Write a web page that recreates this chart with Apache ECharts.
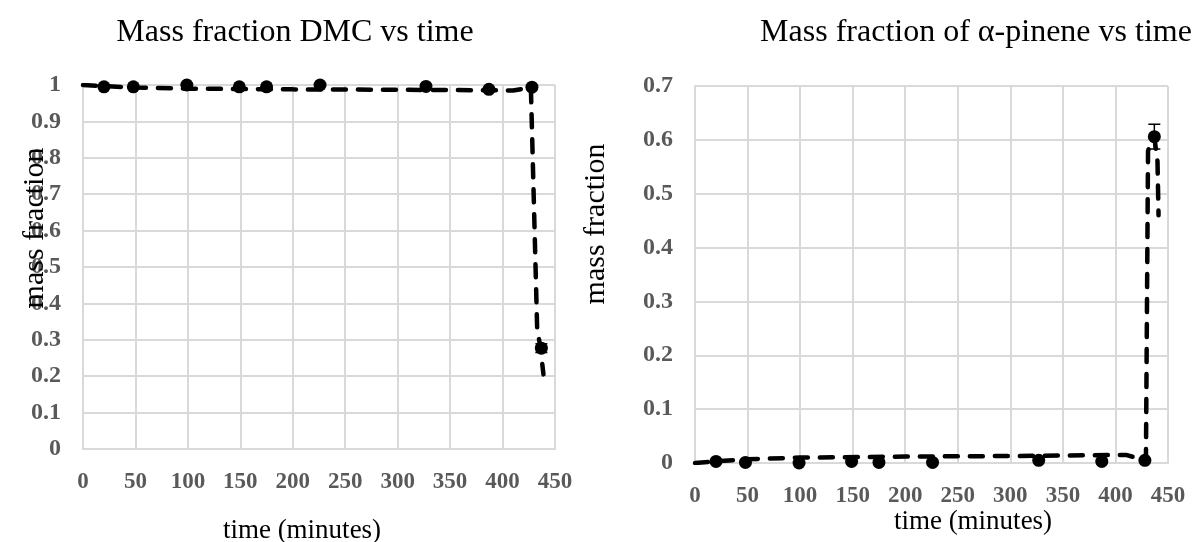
<!DOCTYPE html>
<html>
<head>
<meta charset="utf-8">
<script src="https://cdn.jsdelivr.net/npm/echarts@6/dist/echarts.min.js"></script>
<style>
  html, body { margin: 0; padding: 0; background: #fff; }
  #chart { width: 1196px; height: 542px; }
</style>
</head>
<body>
<div id="chart"></div>
<script>
// Sampling times (minutes) of the measured points
const sampleTimes = [20, 48, 99, 149, 175, 226, 327, 387, 428, 437];

// Measured mass fraction of DMC and its error
const dmcMeasured = [0.995, 0.995, 1.0, 0.995, 0.995, 1.0, 0.996, 0.988, 0.994, 0.277];
const dmcError    = [0, 0, 0, 0, 0, 0, 0, 0, 0, 0.012];

// Measured mass fraction of alpha-pinene and its error
const pineneMeasured = [0.003, 0.001, 0.0, 0.003, 0.001, 0.001, 0.005, 0.003, 0.005, 0.606];
const pineneError    = [0, 0, 0, 0, 0, 0, 0, 0, 0, 0.023];

// Dashed profile curves
const dmcCurveTimes    = [0, 20, 50, 100, 200, 300, 410, 427, 433, 436, 439];
const dmcCurve         = [1.0, 0.997, 0.993, 0.99, 0.988, 0.987, 0.985, 0.993, 0.33, 0.28, 0.205];
const pineneCurveTimes = [0, 20, 50, 100, 200, 300, 410, 429, 431, 437, 440, 441];
const pineneCurve      = [0, 0.003, 0.007, 0.01, 0.012, 0.013, 0.015, 0.005, 0.58, 0.605, 0.56, 0.46];

// Tick labels
const timeTicks   = ['0', '50', '100', '150', '200', '250', '300', '350', '400', '450'];
const dmcTicks    = ['0', '0.1', '0.2', '0.3', '0.4', '0.5', '0.6', '0.7', '0.8', '0.9', '1'];
const pineneTicks = ['0', '0.1', '0.2', '0.3', '0.4', '0.5', '0.6', '0.7'];

const titles = ['Mass fraction DMC vs time', 'Mass fraction of α-pinene vs time'];
const xTitle = 'time (minutes)';
const yTitle = 'mass fraction';

const SERIF = '"Liberation Serif", "Times New Roman", serif';
const GRID_COLOR = '#d9d9d9';
const LABEL_COLOR = '#595959';

function pairs(xs, ys) { return xs.map((x, i) => [x, ys[i]]); }

function xAxisDef(gridIndex) {
  return {
    type: 'value', gridIndex, min: 0, max: 450, interval: 50,
    axisLine: { show: true, lineStyle: { color: GRID_COLOR, width: 2 } },
    axisTick: { show: false },
    splitLine: { show: true, lineStyle: { color: GRID_COLOR, width: 2 } },
    axisLabel: {
      margin: 22, color: LABEL_COLOR, fontFamily: SERIF, fontWeight: 'bold', fontSize: 23,
      formatter: v => timeTicks[Math.round(v / 50)]
    }
  };
}

function yAxisDef(gridIndex, max, ticks) {
  return {
    type: 'value', gridIndex, min: 0, max, interval: 0.1,
    axisLine: { show: true, lineStyle: { color: GRID_COLOR, width: 2 } },
    axisTick: { show: false },
    splitLine: { show: true, lineStyle: { color: GRID_COLOR, width: 2 } },
    axisLabel: {
      margin: 22, color: LABEL_COLOR, fontFamily: SERIF, fontWeight: 'bold', fontSize: 24,
      formatter: v => ticks[Math.round(v / 0.1)]
    }
  };
}

function curveSeries(idx, data) {
  return {
    type: 'line', xAxisIndex: idx, yAxisIndex: idx, data,
    showSymbol: false, silent: true, z: 3,
    lineStyle: { color: '#000', width: 4.5, type: [13, 12], cap: 'round' }
  };
}

function pointSeries(idx, data) {
  return {
    type: 'scatter', xAxisIndex: idx, yAxisIndex: idx, data,
    symbol: 'circle', symbolSize: 13, z: 5,
    itemStyle: { color: '#000', opacity: 1 }
  };
}

function errorSeries(idx, xs, ys, errs) {
  const data = xs.map((x, i) => [x, ys[i] - errs[i], ys[i] + errs[i]]).filter((d, i) => errs[i] > 0);
  return {
    type: 'custom', xAxisIndex: idx, yAxisIndex: idx, data, z: 4,
    renderItem(params, api) {
      const lo = api.coord([api.value(0), api.value(1)]);
      const hi = api.coord([api.value(0), api.value(2)]);
      const w = 6;
      const style = { stroke: '#000', lineWidth: 1.5 };
      return {
        type: 'group',
        children: [
          { type: 'line', shape: { x1: lo[0], y1: lo[1], x2: hi[0], y2: hi[1] }, style },
          { type: 'line', shape: { x1: lo[0] - w, y1: lo[1], x2: lo[0] + w, y2: lo[1] }, style },
          { type: 'line', shape: { x1: hi[0] - w, y1: hi[1], x2: hi[0] + w, y2: hi[1] }, style }
        ]
      };
    }
  };
}

function textEl(text, x, y, size, rotate) {
  return {
    type: 'text', x, y, rotation: rotate ? Math.PI / 2 : 0, z: 100,
    style: {
      text, fill: '#000', font: size + 'px ' + SERIF,
      align: 'center', verticalAlign: 'middle'
    }
  };
}

const chart = echarts.init(document.getElementById('chart'), null, { renderer: 'canvas' });
chart.setOption({
  animation: false,
  backgroundColor: '#fff',
  grid: [
    { left: 83, top: 85, width: 472, height: 364 },
    { left: 695, top: 86, width: 473, height: 377 }
  ],
  xAxis: [xAxisDef(0), xAxisDef(1)],
  yAxis: [yAxisDef(0, 1, dmcTicks), yAxisDef(1, 0.7, pineneTicks)],
  series: [
    curveSeries(0, pairs(dmcCurveTimes, dmcCurve)),
    errorSeries(0, sampleTimes, dmcMeasured, dmcError),
    pointSeries(0, pairs(sampleTimes, dmcMeasured)),
    curveSeries(1, pairs(pineneCurveTimes, pineneCurve)),
    errorSeries(1, sampleTimes, pineneMeasured, pineneError),
    pointSeries(1, pairs(sampleTimes, pineneMeasured))
  ],
  graphic: [
    textEl(titles[0], 295, 33, 32),
    textEl(titles[1], 976, 33, 32),
    textEl(xTitle, 302, 531, 27),
    textEl(xTitle, 973, 522, 27),
    textEl(yTitle, 35, 228, 30, true),
    textEl(yTitle, 596, 224, 30, true)
  ]
});
</script>
</body>
</html>
